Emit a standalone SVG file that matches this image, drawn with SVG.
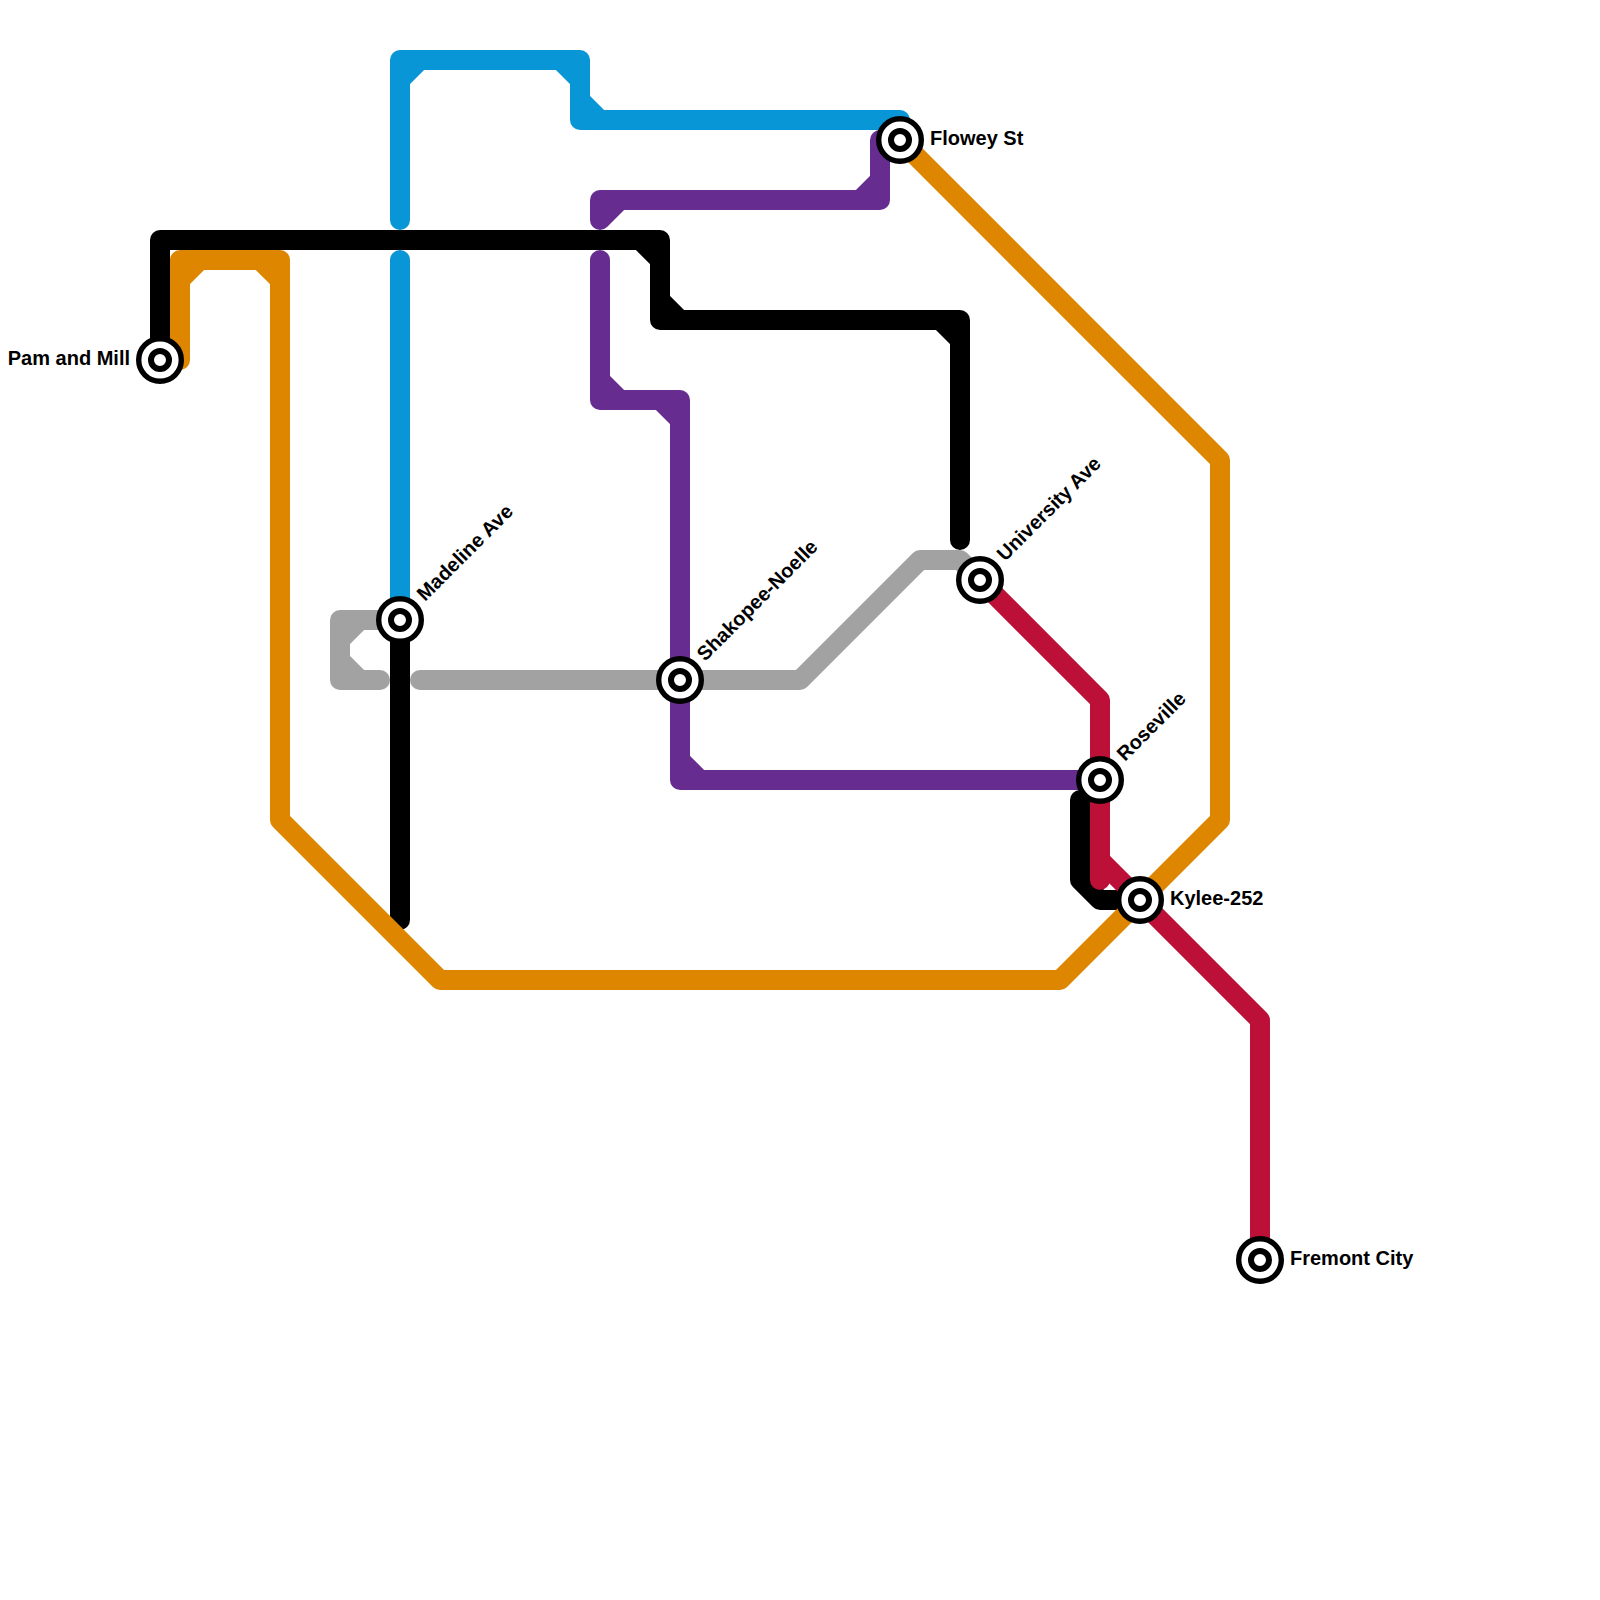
<svg xmlns="http://www.w3.org/2000/svg" width="1600" height="1600" viewBox="0 0 1600 1600">
<style>
.l{fill:none;stroke-width:20;stroke-linecap:round;stroke-linejoin:round}
.o{stroke:#df8600}.b{stroke:#0896d7}.p{stroke:#662c90}.g{stroke:#a2a2a2}.r{stroke:#bd1038}.k{stroke:#000}
.s1{fill:#fff;stroke:#000;stroke-width:5.4}
.s2{fill:#fff;stroke:#000;stroke-width:6}
text{font-family:"Liberation Sans",Arial,sans-serif;font-weight:700;font-size:20px;fill:#000}
</style>
<defs>
<g id="st"><circle class="s1" r="21.3"/><circle class="s2" r="9"/></g>
</defs>
<rect width="1600" height="1600" fill="#fff"/>
<g id="connectors">
<path id="line-blue" class="l b" d="M400 220V60H580V120H900V140M400 80L420 60M560 60L580 80M580 100L600 120M400 260V620"/>
<path id="line-purple" class="l p" d="M880 140V200H600V220M880 180L860 200M620 200L600 220M600 260V400H680V780H1100M600 380L620 400M660 400L680 420M680 760L700 780"/>
<path id="line-gray" class="l g" d="M380 680H340V620H400M340 640L360 620M340 660L360 680M420 680H800L920 560H960L980 580"/>
<path id="line-black" class="l k" d="M160 360V240H660V320H960V540M640 240L660 260M660 300L680 320M940 320L960 340M400 620V920M1080 800V880L1100 900H1140"/>
<path id="line-orange" class="l o" d="M180 360V260H280V820L440 980H1060L1220 820V460L900 140M180 280L200 260M260 260L280 280"/>
<path id="line-red" class="l r" d="M980 580L1100 700V880M1100 860L1260 1020V1260"/>
</g>
<g id="station-pam"><use href="#st" x="160" y="360"/><text x="130" y="365" text-anchor="end">Pam and Mill</text></g>
<g id="station-flowey"><use href="#st" x="900" y="140"/><text x="930" y="145">Flowey St</text></g>
<g id="station-madeline"><use href="#st" x="400" y="620"/><text transform="translate(425 602) rotate(-45)">Madeline Ave</text></g>
<g id="station-shakopee"><use href="#st" x="680" y="680"/><text transform="translate(705 662) rotate(-45)">Shakopee-Noelle</text></g>
<g id="station-university"><use href="#st" x="980" y="580"/><text transform="translate(1005 562) rotate(-45)">University Ave</text></g>
<g id="station-roseville"><use href="#st" x="1100" y="780"/><text transform="translate(1125 762) rotate(-45)">Roseville</text></g>
<g id="station-kylee"><use href="#st" x="1140" y="900"/><text x="1170" y="905">Kylee-252</text></g>
<g id="station-fremont"><use href="#st" x="1260" y="1260"/><text x="1290" y="1265">Fremont City</text></g>
</svg>
